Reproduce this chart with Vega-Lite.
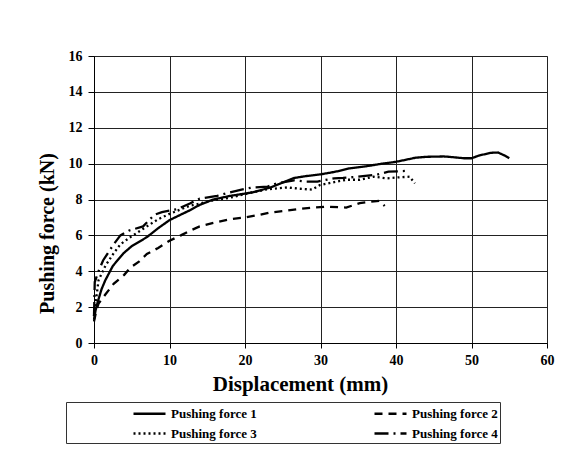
{
  "$schema": "https://vega.github.io/schema/vega-lite/v6.json",
  "width": 453,
  "height": 287,
  "autosize": {"type": "none"},
  "padding": {"left": 94, "top": 56, "right": 22, "bottom": 107},
  "background": "white",
  "config": {
    "view": {"stroke": "#888888", "strokeWidth": 1},
    "axis": {
      "labelFont": "Liberation Serif",
      "titleFont": "Liberation Serif",
      "labelFontWeight": "bold",
      "titleFontWeight": "bold",
      "labelColor": "black",
      "titleColor": "black",
      "gridColor": "#222222",
      "gridWidth": 1,
      "gridOpacity": 1,
      "domainColor": "black",
      "tickColor": "black",
      "labelFlush": false
    }
  },
  "datasets": {
    "curves": [
      {"series": "Pushing force 1", "x": 0, "y": 1.3},
      {"series": "Pushing force 1", "x": 0.2, "y": 1.8},
      {"series": "Pushing force 1", "x": 0.5, "y": 2.3},
      {"series": "Pushing force 1", "x": 1, "y": 3.0},
      {"series": "Pushing force 1", "x": 1.5, "y": 3.5},
      {"series": "Pushing force 1", "x": 2.5, "y": 4.3},
      {"series": "Pushing force 1", "x": 3.9, "y": 5.0},
      {"series": "Pushing force 1", "x": 5, "y": 5.4},
      {"series": "Pushing force 1", "x": 7, "y": 5.9},
      {"series": "Pushing force 1", "x": 8.5, "y": 6.4},
      {"series": "Pushing force 1", "x": 10, "y": 6.85},
      {"series": "Pushing force 1", "x": 12.7, "y": 7.4},
      {"series": "Pushing force 1", "x": 14, "y": 7.7},
      {"series": "Pushing force 1", "x": 15.8, "y": 8.0},
      {"series": "Pushing force 1", "x": 18, "y": 8.2},
      {"series": "Pushing force 1", "x": 20, "y": 8.33},
      {"series": "Pushing force 1", "x": 21, "y": 8.4},
      {"series": "Pushing force 1", "x": 23.4, "y": 8.67},
      {"series": "Pushing force 1", "x": 26.5, "y": 9.2},
      {"series": "Pushing force 1", "x": 28, "y": 9.3},
      {"series": "Pushing force 1", "x": 30, "y": 9.4},
      {"series": "Pushing force 1", "x": 32, "y": 9.55},
      {"series": "Pushing force 1", "x": 33.8, "y": 9.73},
      {"series": "Pushing force 1", "x": 36, "y": 9.85},
      {"series": "Pushing force 1", "x": 38.2, "y": 10.0},
      {"series": "Pushing force 1", "x": 40, "y": 10.1},
      {"series": "Pushing force 1", "x": 42.6, "y": 10.33},
      {"series": "Pushing force 1", "x": 44, "y": 10.38},
      {"series": "Pushing force 1", "x": 46.3, "y": 10.4},
      {"series": "Pushing force 1", "x": 47, "y": 10.38},
      {"series": "Pushing force 1", "x": 49, "y": 10.3},
      {"series": "Pushing force 1", "x": 50, "y": 10.3},
      {"series": "Pushing force 1", "x": 51, "y": 10.45},
      {"series": "Pushing force 1", "x": 52.5, "y": 10.6},
      {"series": "Pushing force 1", "x": 53.5, "y": 10.62},
      {"series": "Pushing force 1", "x": 54.4, "y": 10.45},
      {"series": "Pushing force 1", "x": 55, "y": 10.3},

      {"series": "Pushing force 2", "x": 0, "y": 1.2},
      {"series": "Pushing force 2", "x": 0.3, "y": 1.8},
      {"series": "Pushing force 2", "x": 0.6, "y": 2.2},
      {"series": "Pushing force 2", "x": 1.5, "y": 2.7},
      {"series": "Pushing force 2", "x": 2.6, "y": 3.3},
      {"series": "Pushing force 2", "x": 4, "y": 3.8},
      {"series": "Pushing force 2", "x": 4.8, "y": 4.2},
      {"series": "Pushing force 2", "x": 6, "y": 4.55},
      {"series": "Pushing force 2", "x": 7, "y": 4.96},
      {"series": "Pushing force 2", "x": 8.5, "y": 5.3},
      {"series": "Pushing force 2", "x": 10, "y": 5.7},
      {"series": "Pushing force 2", "x": 11.5, "y": 6.0},
      {"series": "Pushing force 2", "x": 12.7, "y": 6.26},
      {"series": "Pushing force 2", "x": 14, "y": 6.5},
      {"series": "Pushing force 2", "x": 15.8, "y": 6.7},
      {"series": "Pushing force 2", "x": 18, "y": 6.9},
      {"series": "Pushing force 2", "x": 20, "y": 7.0},
      {"series": "Pushing force 2", "x": 22, "y": 7.15},
      {"series": "Pushing force 2", "x": 23.4, "y": 7.28},
      {"series": "Pushing force 2", "x": 25, "y": 7.35},
      {"series": "Pushing force 2", "x": 27, "y": 7.46},
      {"series": "Pushing force 2", "x": 29, "y": 7.55},
      {"series": "Pushing force 2", "x": 30.9, "y": 7.6},
      {"series": "Pushing force 2", "x": 33.4, "y": 7.55},
      {"series": "Pushing force 2", "x": 35.2, "y": 7.8},
      {"series": "Pushing force 2", "x": 37.8, "y": 7.93},
      {"series": "Pushing force 2", "x": 38.5, "y": 7.64},

      {"series": "Pushing force 3", "x": 0, "y": 1.5},
      {"series": "Pushing force 3", "x": 0.3, "y": 2.5},
      {"series": "Pushing force 3", "x": 0.6, "y": 3.5},
      {"series": "Pushing force 3", "x": 1.5, "y": 4.3},
      {"series": "Pushing force 3", "x": 2.6, "y": 5.0},
      {"series": "Pushing force 3", "x": 3.5, "y": 5.5},
      {"series": "Pushing force 3", "x": 4.8, "y": 5.9},
      {"series": "Pushing force 3", "x": 7, "y": 6.5},
      {"series": "Pushing force 3", "x": 8.5, "y": 6.9},
      {"series": "Pushing force 3", "x": 10, "y": 7.2},
      {"series": "Pushing force 3", "x": 12.7, "y": 7.65},
      {"series": "Pushing force 3", "x": 15.8, "y": 7.95},
      {"series": "Pushing force 3", "x": 18, "y": 8.1},
      {"series": "Pushing force 3", "x": 20.3, "y": 8.33},
      {"series": "Pushing force 3", "x": 22.9, "y": 8.57},
      {"series": "Pushing force 3", "x": 25.6, "y": 8.67},
      {"series": "Pushing force 3", "x": 27.2, "y": 8.6},
      {"series": "Pushing force 3", "x": 28.9, "y": 8.55},
      {"series": "Pushing force 3", "x": 29.9, "y": 8.8},
      {"series": "Pushing force 3", "x": 31.6, "y": 8.95},
      {"series": "Pushing force 3", "x": 33.4, "y": 9.1},
      {"series": "Pushing force 3", "x": 35.2, "y": 9.1},
      {"series": "Pushing force 3", "x": 37, "y": 9.27},
      {"series": "Pushing force 3", "x": 38.8, "y": 9.18},
      {"series": "Pushing force 3", "x": 40.5, "y": 9.24},
      {"series": "Pushing force 3", "x": 41.8, "y": 9.27},
      {"series": "Pushing force 3", "x": 42.5, "y": 8.9},

      {"series": "Pushing force 4", "x": 0, "y": 1.5},
      {"series": "Pushing force 4", "x": 0.1, "y": 3.4},
      {"series": "Pushing force 4", "x": 0.6, "y": 4.0},
      {"series": "Pushing force 4", "x": 1.2, "y": 4.6},
      {"series": "Pushing force 4", "x": 2.6, "y": 5.5},
      {"series": "Pushing force 4", "x": 3.5, "y": 6.0},
      {"series": "Pushing force 4", "x": 4.6, "y": 6.26},
      {"series": "Pushing force 4", "x": 6.5, "y": 6.5},
      {"series": "Pushing force 4", "x": 8, "y": 7.15},
      {"series": "Pushing force 4", "x": 9, "y": 7.3},
      {"series": "Pushing force 4", "x": 11, "y": 7.46},
      {"series": "Pushing force 4", "x": 12.7, "y": 7.78},
      {"series": "Pushing force 4", "x": 14, "y": 8.05},
      {"series": "Pushing force 4", "x": 16.3, "y": 8.2},
      {"series": "Pushing force 4", "x": 18, "y": 8.4},
      {"series": "Pushing force 4", "x": 19.4, "y": 8.54},
      {"series": "Pushing force 4", "x": 21, "y": 8.67},
      {"series": "Pushing force 4", "x": 23, "y": 8.72},
      {"series": "Pushing force 4", "x": 24.2, "y": 8.9},
      {"series": "Pushing force 4", "x": 26.5, "y": 9.07},
      {"series": "Pushing force 4", "x": 28, "y": 9.0},
      {"series": "Pushing force 4", "x": 29.6, "y": 9.0},
      {"series": "Pushing force 4", "x": 31.8, "y": 9.18},
      {"series": "Pushing force 4", "x": 33, "y": 9.2},
      {"series": "Pushing force 4", "x": 34.9, "y": 9.27},
      {"series": "Pushing force 4", "x": 37.6, "y": 9.4},
      {"series": "Pushing force 4", "x": 39, "y": 9.55},
      {"series": "Pushing force 4", "x": 41.7, "y": 9.6}
    ]
  },
  "data": {"name": "curves"},
  "mark": {"type": "line", "color": "black", "strokeWidth": 2.3, "strokeCap": "butt"},
  "encoding": {
    "x": {
      "field": "x",
      "type": "quantitative",
      "scale": {"domain": [0, 60], "nice": false},
      "axis": {
        "title": "Displacement (mm)",
        "values": [0, 10, 20, 30, 40, 50, 60],
        "grid": true,
        "tickSize": 5,
        "labelPadding": 5,
        "labelFontSize": 14,
        "titleFontSize": 21,
        "titlePadding": 6,
        "titleX": 206,
        "titleAlign": "center"
      }
    },
    "y": {
      "field": "y",
      "type": "quantitative",
      "scale": {"domain": [0, 16], "nice": false},
      "axis": {
        "title": "Pushing force (kN)",
        "values": [0, 2, 4, 6, 8, 10, 12, 14, 16],
        "grid": true,
        "tickSize": 6,
        "labelPadding": 6,
        "labelFontSize": 14,
        "titleFontSize": 20,
        "titlePadding": 11,
        "titleY": 177,
        "titleAlign": "center"
      }
    },
    "strokeDash": {
      "field": "series",
      "type": "nominal",
      "scale": {
        "domain": ["Pushing force 1", "Pushing force 2", "Pushing force 3", "Pushing force 4"],
        "range": [[1, 0], [8, 6], [2, 3], [14, 5, 2, 5]]
      },
      "legend": {
        "title": null,
        "orient": "none",
        "legendX": -28,
        "legendY": 346,
        "columns": 2,
        "direction": "horizontal",
        "symbolType": "M-2,0H2",
        "symbolSize": 256,
        "symbolStrokeWidth": 2.3,
        "symbolStrokeColor": "black",
        "symbolFillColor": "transparent",
        "symbolOffset": 72,
        "labelFont": "Liberation Serif",
        "labelFontWeight": "bold",
        "labelFontSize": 13,
        "labelColor": "black",
        "labelOffset": 12,
        "columnPadding": 52,
        "rowPadding": 3,
        "padding": 2,
        "strokeColor": "#333333"
      }
    }
  }
}
